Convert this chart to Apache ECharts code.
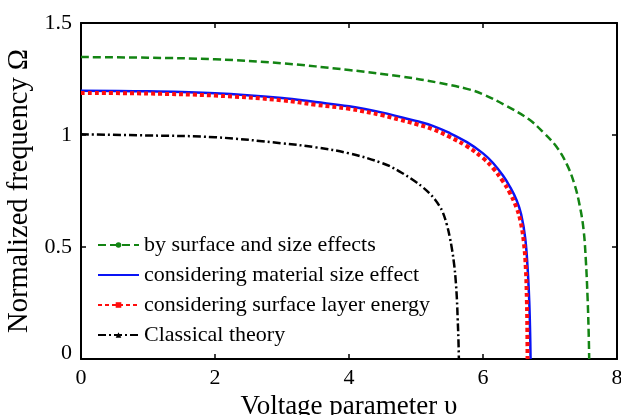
<!DOCTYPE html>
<html>
<head>
<meta charset="utf-8">
<style>
  html, body { margin: 0; padding: 0; background: #fff; }
  #chart { width: 621px; height: 415px; }
</style>
<script src="https://cdn.jsdelivr.net/npm/echarts@6/dist/echarts.min.js"></script>
</head>
<body>
<div id="chart"></div>
<script>
// Normalized frequency versus voltage parameter for four beam models
const seriesNames = [
  'by surface and size effects',
  'considering material size effect',
  'considering surface layer energy',
  'Classical theory'
];

const surfaceAndSize = [
  [0, 1.348], [1, 1.345], [2, 1.338], [3, 1.32], [4, 1.29], [4.76, 1.262],
  [5.36, 1.232], [5.76, 1.206], [6.0, 1.182], [6.35, 1.13], [6.68, 1.071],
  [6.9, 1.012], [7.1, 0.946], [7.25, 0.87], [7.36, 0.785], [7.44, 0.69],
  [7.5, 0.58], [7.535, 0.44], [7.56, 0.28], [7.577, 0.12], [7.585, 0]
];

const materialSize = [
  [0, 1.198], [1, 1.195], [2, 1.186], [3, 1.165], [3.5, 1.147], [4, 1.128],
  [4.5, 1.1], [4.76, 1.08], [5.0, 1.063], [5.25, 1.041], [5.5, 1.009],
  [5.76, 0.968], [6.0, 0.918], [6.15, 0.875], [6.3, 0.818], [6.4, 0.77],
  [6.5, 0.71], [6.57, 0.645], [6.63, 0.54], [6.665, 0.41], [6.69, 0.26],
  [6.703, 0.12], [6.71, 0]
];

const surfaceLayer = [
  [0, 1.188], [1, 1.185], [2, 1.176], [3, 1.155], [3.5, 1.135], [4, 1.117],
  [4.5, 1.088], [4.76, 1.068], [5.0, 1.049], [5.25, 1.026], [5.5, 0.992],
  [5.76, 0.95], [6.0, 0.897], [6.15, 0.852], [6.3, 0.792], [6.4, 0.742],
  [6.5, 0.676], [6.56, 0.615], [6.61, 0.52], [6.64, 0.4], [6.655, 0.26],
  [6.662, 0.12], [6.665, 0]
];

const classical = [
  [0, 1.003], [1, 0.998], [2, 0.99], [3, 0.963], [3.5, 0.945], [4, 0.918],
  [4.5, 0.874], [4.75, 0.838], [5.0, 0.79], [5.1, 0.767], [5.2, 0.74],
  [5.28, 0.713], [5.35, 0.683], [5.4, 0.655], [5.46, 0.6], [5.5, 0.55],
  [5.54, 0.485], [5.57, 0.42], [5.59, 0.36], [5.61, 0.27], [5.622, 0.18],
  [5.633, 0.09], [5.64, 0]
];

const xTicks = [0, 2, 4, 6, 8];
const yTicks = [0, 0.5, 1, 1.5];

const FONT = 'Liberation Serif';
const chart = echarts.init(document.getElementById('chart'), null, { renderer: 'canvas' });

const frameAxis = {
  axisLine: { show: true, onZero: false, lineStyle: { color: '#000', width: 2 } },
  axisTick: { show: true, inside: true, length: 5, lineStyle: { color: '#000', width: 1.5 } },
  splitLine: { show: false }
};

function lineSeries(name, data, color, type, width, symbol) {
  return {
    name: name,
    type: 'line',
    data: data,
    smooth: 0.4,
    symbol: symbol,
    symbolSize: 5,
    showSymbol: false,
    itemStyle: { color: color },
    lineStyle: { color: color, width: width, type: type, cap: 'butt' },
    emphasis: { disabled: true },
    z: 3
  };
}

chart.setOption({
  animation: false,
  backgroundColor: '#fff',
  grid: { left: 81, top: 23, right: 4, bottom: 56, containLabel: false, outerBoundsMode: 'none' },
  legend: {
    orient: 'vertical',
    left: 97,
    top: 234,
    padding: 0,
    itemWidth: 41,
    itemHeight: 7,
    itemGap: 8,
    selectedMode: false,
    textStyle: { fontFamily: FONT, fontSize: 22, color: '#000' },
    data: [
      { name: seriesNames[0] },
      { name: seriesNames[1], itemStyle: { opacity: 0 } },
      { name: seriesNames[2] },
      { name: seriesNames[3] }
    ]
  },
  xAxis: [
    Object.assign({
      type: 'value', position: 'bottom', min: xTicks[0], max: xTicks[xTicks.length - 1], interval: 2,
      name: 'Voltage parameter υ', nameLocation: 'middle', nameGap: 29,
      nameTextStyle: { fontFamily: FONT, fontSize: 27, color: '#000' },
      axisLabel: { margin: 8, fontFamily: FONT, fontSize: 22, color: '#000' }
    }, frameAxis),
    Object.assign({
      type: 'value', position: 'top', min: xTicks[0], max: xTicks[xTicks.length - 1], interval: 2,
      axisLabel: { show: false }
    }, frameAxis)
  ],
  yAxis: [
    Object.assign({
      type: 'value', position: 'left', min: yTicks[0], max: yTicks[yTicks.length - 1], interval: 0.5,
      name: 'Normalized frequency Ω', nameLocation: 'middle', nameGap: 44,
      nameTextStyle: { fontFamily: FONT, fontSize: 28.5, color: '#000' },
      axisLabel: {
        margin: 9, fontFamily: FONT, fontSize: 22, color: '#000',
        formatter: function (v) { return v === 0 ? '{zero|0}' : String(v); },
        rich: { zero: { fontFamily: FONT, fontSize: 22, color: '#000', padding: [0, 0, 12, 0] } }
      }
    }, frameAxis),
    Object.assign({
      type: 'value', position: 'right', min: yTicks[0], max: yTicks[yTicks.length - 1], interval: 0.5,
      axisLabel: { show: false }
    }, frameAxis)
  ],
  series: [
    lineSeries(seriesNames[0], surfaceAndSize, '#138413', [8, 4], 2.5, 'circle'),
    lineSeries(seriesNames[1], materialSize, '#0a14f5', 'solid', 2.5, 'none'),
    lineSeries(seriesNames[2], surfaceLayer, '#ff0d0d', [4, 3], 4, 'rect'),
    lineSeries(seriesNames[3], classical, '#000000', [8, 3, 2, 3], 2.5, 'triangle')
  ]
});
</script>
</body>
</html>
